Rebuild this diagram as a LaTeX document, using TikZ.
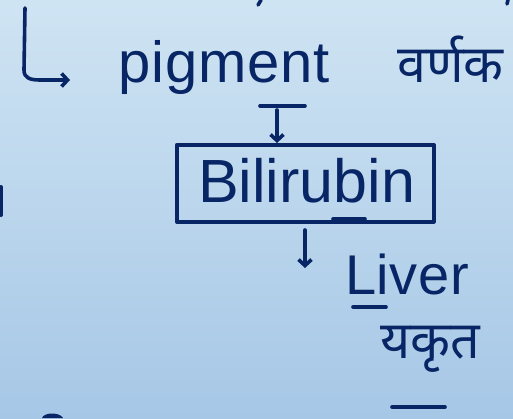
\documentclass[tikz,border=0pt]{standalone}
\usepackage{fontspec}
\setmainfont{Liberation Sans}
\newfontfamily\devfont[Script=Devanagari]{Noto Sans}
\usetikzlibrary{arrows.meta}
\definecolor{ink}{RGB}{8,38,102}
\definecolor{bgtop}{RGB}{207,228,243}
\definecolor{bgbot}{RGB}{166,199,230}
\tikzset{
  pen/.style={draw=ink, line width=3.6pt, line cap=round, line join=round},
  word/.style={text=ink, inner sep=0pt, anchor=base west},
  tipped/.style={pen, -{Straight Barb[length=6pt,width=13pt]}},
}
\begin{document}
\begin{tikzpicture}[x=1pt,y=-1pt]
\useasboundingbox (0,0) rectangle (513,418);
\shade[top color=bgtop, bottom color=bgbot] (0,0) rectangle (513,418);
% stray marks at the edges
\draw[pen] (258,5) -- (261,0);
\draw[pen] (507,4) -- (508,0);
\draw[pen, line width=4pt] (1,187) -- (1,215);
\fill[ink] (42,418) .. controls (44,412) and (60,412) .. (63,418) -- cycle;
% words
\node[word, font=\fontsize{58}{60}\selectfont\addfontfeature{LetterSpace=1.5}] (pig) at (118,82) {pigment};
\node[word, font=\devfont\fontsize{52}{54}\selectfont] (pigh) at (397,82) {वर्णक};
\node[pen, minimum width=257pt, minimum height=77pt, anchor=north west, inner sep=0pt] (box) at (175,143) {};
\node[word, font=\fontsize{61}{63}\selectfont] (bil) at (198,202) {Bilirubin};
\node[word, font=\fontsize{56}{58}\selectfont\addfontfeature{LetterSpace=1}] (liv) at (345,294) {Liver};
\node[word, font=\devfont\fontsize{52}{54}\selectfont] (livh) at (380,358) {यकृत};
% hook arrow
\coordinate (hooktop) at (25,8);
\coordinate (hookend) at (70,80);
\draw[tipped] (hooktop) -- (24,70) .. controls (24,78) and (30,80) .. (40,80) -- (hookend);
% underlines
\draw[pen] (260,106) -- (305,106);
\draw[pen] (353,307) -- (386,307);
\draw[pen] (392,407) -- (445,407);
\draw[pen] (333,219) -- (365,219);
% connectors
\coordinate (a1) at (277,110);
\draw[tipped] (a1) -- (box.north -| a1);
\coordinate (a2) at (305,230);
\coordinate (a2e) at (305,268);
\draw[tipped] (a2) -- (a2e);
\end{tikzpicture}
\end{document}
